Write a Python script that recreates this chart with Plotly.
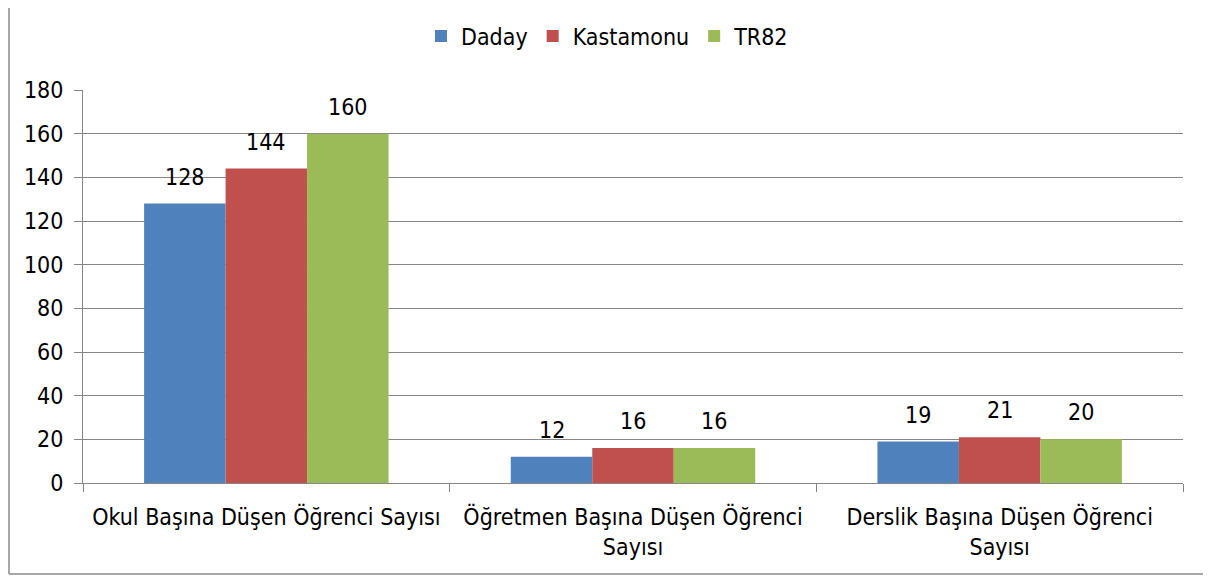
import plotly.graph_objects as go

categories = ["Okul Başına Düşen Öğrenci Sayısı",
              "Öğretmen Başına Düşen Öğrenci<br>Sayısı",
              "Derslik Başına Düşen Öğrenci<br>Sayısı"]
series_names = ["Daday", "Kastamonu", "TR82"]
daday = [128, 12, 19]
kastamonu = [144, 16, 21]
tr82 = [160, 16, 20]
colors = ["#4F81BD", "#C0504D", "#9BBB59"]
y_ticks = [0, 20, 40, 60, 80, 100, 120, 140, 160, 180]

FONT = "Tahoma, 'DejaVu Sans Condensed', 'DejaVu Sans', sans-serif"
fsize = 23

W, H = 1211, 576
OFF = 8  # page body margin
l, t = 83 - OFF, 90 - OFF
pw, ph = 1100, 393
r = W - l - pw
b = H - t - ph

def px_x(x):
    return (x - OFF - l) / pw

def px_y(y):
    return (t + ph - (y - OFF)) / ph

fig = go.Figure()
all_vals = [daday, kastamonu, tr82]
bar_px = pw / 3 * (2 / 3) / 3
annotations = []
for i, (name, vals, col) in enumerate(zip(series_names, all_vals, colors)):
    fig.add_trace(go.Bar(
        x=categories, y=vals, name=name, marker_color=col,
        marker_line_width=0,
    ))
    for cat, v in zip(categories, vals):
        annotations.append(dict(
            x=cat, y=v, xref="x", yref="y", text=str(v), showarrow=False,
            xshift=(i - 1) * bar_px, yshift=12, yanchor="bottom",
            font=dict(family=FONT, size=fsize, color="black"),
        ))

border = dict(color="#8a8a8a", width=1.5)
fig.update_layout(
    width=W, height=H,
    margin=dict(l=l, r=r, t=t, b=b, autoexpand=False),
    paper_bgcolor="white", plot_bgcolor="white",
    barmode="group", bargap=1/3, bargroupgap=0,
    font=dict(family=FONT, size=fsize, color="black"),
    legend=dict(orientation="h", x=px_x(421), xanchor="left",
                y=px_y(36), yanchor="middle", itemwidth=30,
                font=dict(family=FONT, size=fsize, color="black"),
                tracegroupgap=0),
    xaxis=dict(showline=True, linecolor="#868686", linewidth=1,
               ticks="outside", tickson="boundaries", ticklen=8,
               tickcolor="#868686", showgrid=False, ticklabelstandoff=13,
               tickfont=dict(family=FONT, size=fsize, color="black")),
    yaxis=dict(range=[0, 180], tickvals=y_ticks, showline=True,
               linecolor="#868686", linewidth=1, ticks="outside",
               ticklen=8, tickcolor="#868686", showgrid=True,
               gridcolor="#868686", gridwidth=1, zeroline=False,
               ticklabelstandoff=6,
               tickfont=dict(family=FONT, size=fsize, color="black")),
    annotations=annotations,
    shapes=[
        dict(type="line", xref="paper", yref="paper",
             x0=px_x(9), x1=px_x(9), y0=px_y(574), y1=px_y(0), line=border),
        dict(type="line", xref="paper", yref="paper",
             x0=px_x(9), x1=px_x(1210), y0=px_y(574), y1=px_y(574), line=border),
        dict(type="line", xref="paper", yref="paper",
             x0=px_x(1210), x1=px_x(1210), y0=px_y(574), y1=px_y(0),
             line=dict(color="#d0d0d0", width=1)),
    ],
)

fig.write_html("out.html")
